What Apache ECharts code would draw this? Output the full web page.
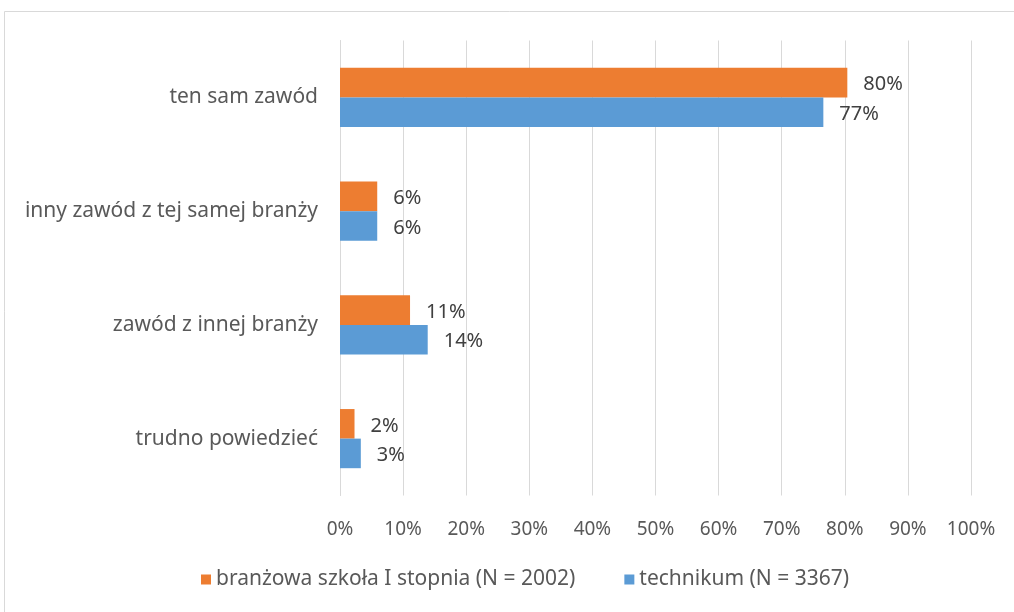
<!DOCTYPE html>
<html>
<head>
<meta charset="utf-8">
<script src="https://cdn.jsdelivr.net/npm/echarts@6/dist/echarts.min.js"></script>
<style>
  html, body { margin: 0; padding: 0; background: #ffffff; }
  #chart { width: 1014px; height: 612px; }
</style>
</head>
<body>
<div id="chart"></div>
<script>
// Answers per category, in percent
const categories = ['ten sam zawód', 'inny zawód z tej samej branży', 'zawód z innej branży', 'trudno powiedzieć'];
const seriesNames = ['branżowa szkoła I stopnia (N = 2002)', 'technikum (N = 3367)'];
const branzowa = [80.4, 5.9, 11.1, 2.3];
const technikum = [76.6, 5.9, 13.9, 3.3];
const xTicks = [0, 10, 20, 30, 40, 50, 60, 70, 80, 90, 100];

const FONT = 'Noto Sans';
const chart = echarts.init(document.getElementById('chart'), null, { renderer: 'canvas' });

const barLabel = {
  show: true,
  position: 'right',
  distance: 16,
  color: '#404040',
  fontFamily: FONT,
  fontSize: 20,
  offset: [0, 2],
  formatter: p => Math.round(p.value) + '%'
};

chart.setOption({
  animation: false,
  backgroundColor: '#ffffff',
  textStyle: { fontFamily: FONT },
  graphic: [{
    type: 'polyline',
    shape: { points: [[4.5, 612], [4.5, 11.5], [1014, 11.5]] },
    style: { stroke: '#d9d9d9', lineWidth: 1, fill: null },
    silent: true
  }],
  grid: { left: 340, right: 43, top: 40.5, bottom: 612 - 495.5, containLabel: false },
  legend: {
    data: seriesNames,
    left: 196,
    top: 564,
    itemWidth: 10,
    itemHeight: 10,
    itemGap: 49,
    icon: 'rect',
    textStyle: { color: '#595959', fontSize: 21, fontFamily: FONT }
  },
  xAxis: {
    type: 'value',
    min: xTicks[0],
    max: xTicks[xTicks.length - 1],
    interval: 10,
    axisLine: { show: false },
    axisTick: { show: false },
    splitLine: { show: true, lineStyle: { color: '#d9d9d9', width: 1 } },
    axisLabel: { color: '#595959', fontSize: 19, fontFamily: FONT, margin: 25, formatter: v => v + '%' }
  },
  yAxis: {
    type: 'category',
    data: categories,
    inverse: true,
    axisLine: { show: true, lineStyle: { color: '#d9d9d9' } },
    axisTick: { show: false },
    axisLabel: { color: '#595959', fontSize: 21, fontFamily: FONT, margin: 22 }
  },
  series: [
    {
      name: seriesNames[0],
      type: 'bar',
      data: branzowa,
      barGap: '0%',
      barCategoryGap: '48%',
      itemStyle: { color: '#ed7d31' },
      label: barLabel
    },
    {
      name: seriesNames[1],
      type: 'bar',
      data: technikum,
      barGap: '0%',
      barCategoryGap: '48%',
      itemStyle: { color: '#5b9bd5' },
      label: barLabel
    }
  ]
});
</script>
</body>
</html>
